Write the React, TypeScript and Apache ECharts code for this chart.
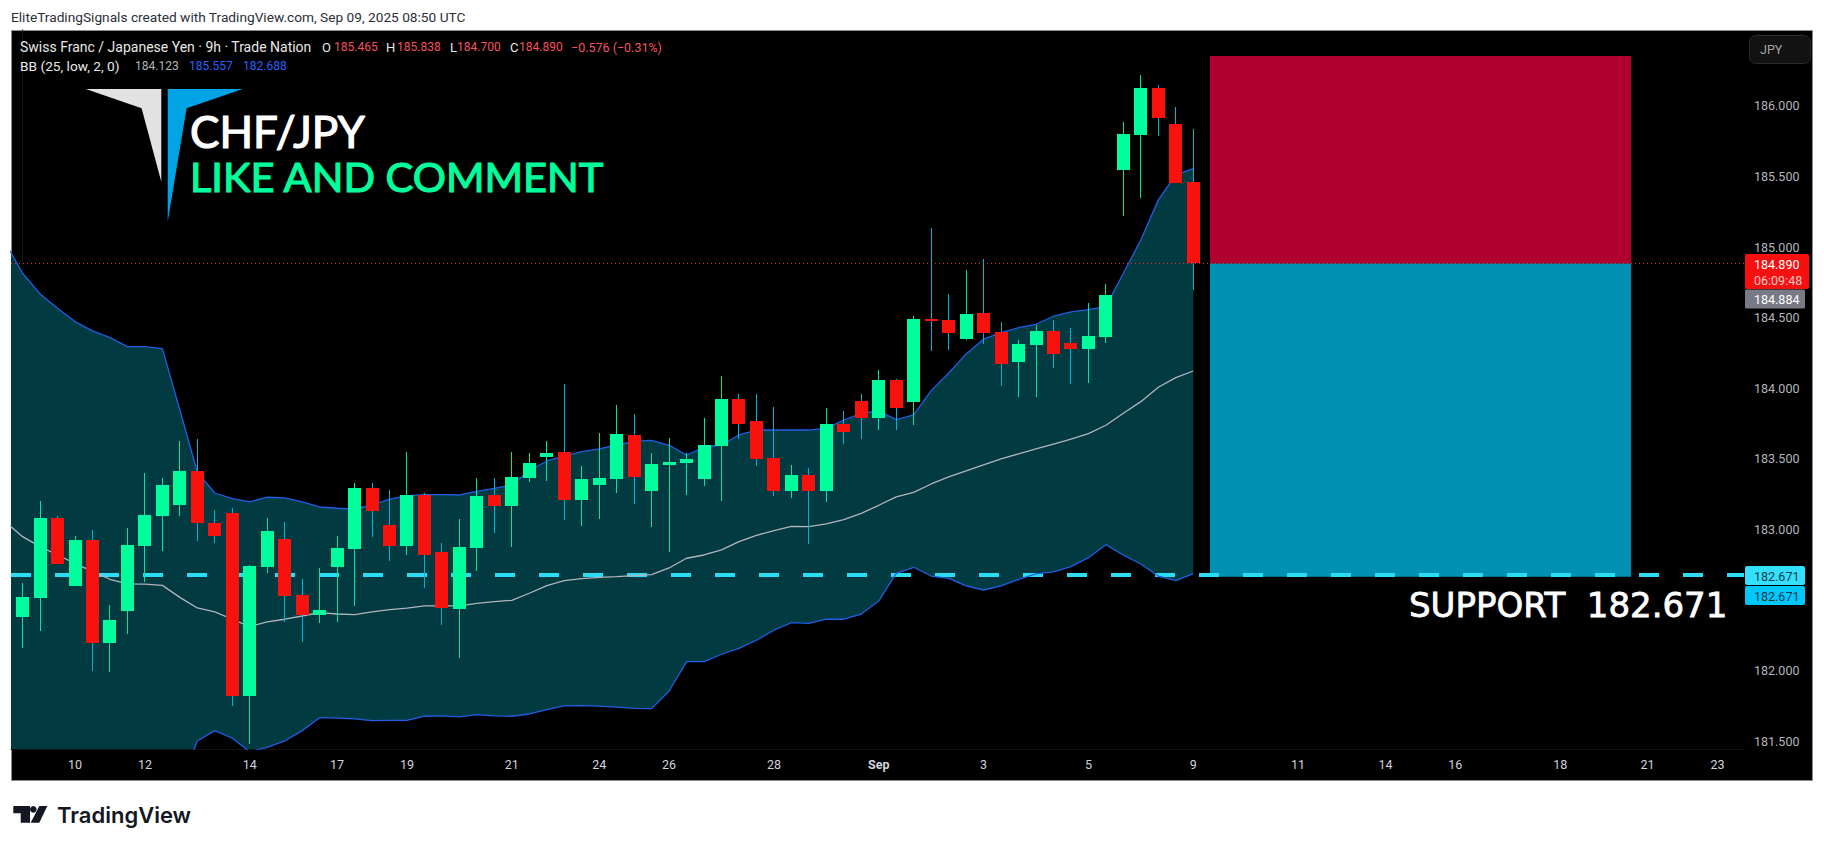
import { useEffect, useRef } from 'react';
import * as echarts from 'echarts';

// candle values (9h bars)
const opens = [182.381, 182.516, 183.082, 182.601, 182.927, 182.197, 182.424, 182.884, 183.096, 183.174, 183.415, 183.047, 183.118, 181.822, 182.735, 182.934, 182.537, 182.395, 182.735, 182.863, 183.295, 183.033, 182.884, 183.245, 182.842, 182.438, 182.87, 183.245, 183.167, 183.365, 183.514, 183.55, 183.21, 183.316, 183.358, 183.67, 183.273, 183.458, 183.472, 183.358, 183.592, 183.925, 183.769, 183.507, 183.273, 183.387, 183.273, 183.748, 183.911, 183.79, 184.06, 183.904, 184.492, 184.485, 184.35, 184.534, 184.4, 184.187, 184.308, 184.407, 184.322, 184.279, 184.364, 185.547, 185.795, 186.128, 185.873, 185.465];
const highs = [182.622, 183.203, 183.096, 182.955, 182.997, 182.466, 183.011, 183.401, 183.366, 183.628, 183.642, 183.139, 183.153, 182.749, 183.082, 183.054, 182.65, 182.728, 182.955, 183.33, 183.33, 183.281, 183.55, 183.259, 182.905, 183.075, 183.365, 183.365, 183.55, 183.543, 183.628, 184.031, 183.45, 183.684, 183.882, 183.819, 183.543, 183.649, 183.543, 183.79, 184.088, 183.96, 183.96, 183.868, 183.458, 183.436, 183.861, 183.84, 183.96, 184.13, 184.067, 184.513, 185.136, 184.669, 184.839, 184.917, 184.471, 184.343, 184.449, 184.485, 184.428, 184.605, 184.74, 185.887, 186.22, 186.149, 185.993, 185.838];
const lows = [182.162, 182.282, 182.757, 182.601, 181.999, 181.992, 182.261, 182.629, 182.849, 183.096, 182.919, 182.905, 181.751, 181.482, 182.693, 182.346, 182.204, 182.339, 182.346, 182.459, 182.948, 182.778, 182.82, 182.587, 182.325, 182.091, 182.709, 182.976, 182.877, 183.337, 183.344, 183.068, 183.026, 183.075, 183.259, 183.181, 183.018, 182.841, 183.245, 183.309, 183.203, 183.642, 183.45, 183.238, 183.224, 182.898, 183.196, 183.606, 183.642, 183.705, 183.705, 183.741, 184.265, 184.272, 184.343, 184.315, 184.017, 183.939, 183.939, 184.145, 184.031, 184.038, 184.322, 185.221, 185.349, 185.788, 185.455, 184.7];
const closes = [182.523, 183.082, 182.757, 182.927, 182.197, 182.36, 182.891, 183.104, 183.316, 183.415, 183.047, 182.955, 181.822, 182.742, 182.99, 182.53, 182.395, 182.431, 182.87, 183.295, 183.132, 182.884, 183.245, 182.82, 182.445, 182.877, 183.238, 183.167, 183.373, 183.472, 183.543, 183.21, 183.358, 183.365, 183.677, 183.373, 183.465, 183.479, 183.5, 183.599, 183.925, 183.748, 183.5, 183.273, 183.387, 183.273, 183.748, 183.691, 183.79, 184.06, 183.861, 184.492, 184.478, 184.393, 184.527, 184.393, 184.173, 184.315, 184.407, 184.244, 184.279, 184.371, 184.662, 185.802, 186.128, 185.915, 185.455, 184.885];

// Bollinger bands, first value belongs to the bar before the first candle
const bbUpper = [185.034, 184.815, 184.669, 184.567, 184.473, 184.407, 184.359, 184.296, 184.296, 184.281, 183.847, 183.406, 183.259, 183.219, 183.196, 183.229, 183.224, 183.196, 183.16, 183.151, 183.144, 183.174, 183.215, 183.238, 183.248, 183.248, 183.245, 183.271, 183.292, 183.316, 183.417, 183.486, 183.521, 183.552, 183.571, 183.599, 183.625, 183.632, 183.597, 183.528, 183.583, 183.599, 183.67, 183.705, 183.705, 183.705, 183.705, 183.717, 183.776, 183.823, 183.84, 183.779, 183.812, 183.984, 184.107, 184.244, 184.348, 184.395, 184.43, 184.454, 184.511, 184.541, 184.558, 184.579, 184.815, 185.051, 185.335, 185.512, 185.557];
const bbBasis = [183.056, 182.95, 182.879, 182.82, 182.761, 182.702, 182.648, 182.615, 182.613, 182.605, 182.52, 182.445, 182.417, 182.365, 182.313, 182.346, 182.365, 182.388, 182.412, 182.402, 182.398, 182.417, 182.433, 182.443, 182.459, 182.459, 182.459, 182.478, 182.49, 182.499, 182.549, 182.603, 182.638, 182.653, 182.662, 182.667, 182.674, 182.681, 182.728, 182.797, 182.82, 182.856, 182.915, 182.959, 182.993, 183.023, 183.021, 183.04, 183.07, 183.115, 183.172, 183.231, 183.264, 183.323, 183.373, 183.415, 183.458, 183.5, 183.536, 183.571, 183.606, 183.64, 183.68, 183.739, 183.824, 183.906, 184.008, 184.076, 184.123];
const bbLower = [181.078, 181.085, 181.089, 181.073, 181.049, 180.997, 180.937, 180.934, 180.93, 180.929, 181.193, 181.503, 181.576, 181.522, 181.427, 181.458, 181.503, 181.576, 181.668, 181.664, 181.659, 181.647, 181.649, 181.649, 181.678, 181.68, 181.673, 181.69, 181.68, 181.678, 181.694, 181.725, 181.751, 181.753, 181.749, 181.742, 181.734, 181.732, 181.857, 182.065, 182.065, 182.117, 182.159, 182.216, 182.287, 182.341, 182.336, 182.365, 182.365, 182.402, 182.494, 182.69, 182.733, 182.671, 182.655, 182.601, 182.572, 182.601, 182.648, 182.686, 182.7, 182.738, 182.801, 182.893, 182.818, 182.756, 182.671, 182.638, 182.688];

const tickBars = [3, 7, 13, 18, 22, 28, 33, 37, 43, 49, 55, 61, 67, 73, 78, 82, 88, 93, 97];
const tickLabels = ['10', '12', '14', '17', '19', '21', '24', '26', '28', 'Sep', '3', '5', '9', '11', '14', '16', '18', '21', '23'];
// 182.500 sits behind the two support tags in the original
const priceTicks = [181.5, 182, 183, 183.5, 184, 184.5, 185, 185.5, 186];

const lastLine = 184.885;
const supportLine = 182.678;
const zoneTop = 186.354;
const zoneBottom = 182.666;
const zoneFrom = 67.96;
const zoneTo = 92.05;

const xMin = -0.664;
const xMax = 98.52;
const yMin = 181.446;
const yMax = 186.538;

const GREEN = '#00ff9c';
const RED = '#f7120d';
const WICK_UP = '#00e8a0';
const WICK_DOWN = '#00b4d8';
const BAND_LINE = '#1f5fe6';

const FONT = 'Roboto, sans-serif';

const label = (text: string, x: number, y: number, fill: string, fontSize = 12, extra: any = {}) => ({
  type: 'text',
  x,
  y,
  z: 100,
  silent: true,
  style: { text, fill, fontSize, fontFamily: FONT, textVerticalAlign: 'middle', ...extra },
});

const box = (x: number, y: number, width: number, height: number, fill: string, r = 1, stroke?: string) => ({
  type: 'rect',
  z: 90,
  silent: true,
  shape: { x, y, width, height, r },
  style: { fill, stroke },
});

const App = () => {
  const chartRef = useRef<HTMLDivElement>(null);

  useEffect(() => {
    if (!chartRef.current) return;
    const chart = echarts.init(chartRef.current, null, { renderer: 'svg' });

    const bandPoint = (values: number[]) => values.map((v, i) => [i - 1, v]);

    const rectBetween = (api: any, top: number, bottom: number, fill: string) => {
      const a = api.coord([zoneFrom, top]);
      const b = api.coord([zoneTo, bottom]);
      return {
        type: 'rect',
        shape: { x: a[0], y: a[1], width: b[0] - a[0], height: b[1] - a[1] },
        style: { fill },
      };
    };

    const option: any = {
      animation: false,
      backgroundColor: '#ffffff',
      grid: { left: 11, top: 30, width: 1733, height: 719, containLabel: false },
      xAxis: {
        type: 'value',
        min: xMin,
        max: xMax,
        splitLine: { show: false },
        axisTick: { show: false },
        axisLine: { show: true, lineStyle: { color: '#141414' } },
        axisLabel: {
          customValues: tickBars,
          margin: 9,
          color: '#d1d4dc',
          fontSize: 12.5,
          fontFamily: FONT,
          formatter: (v: number) => {
            const t = tickLabels[tickBars.indexOf(v)];
            return t === 'Sep' ? '{b|Sep}' : t;
          },
          rich: { b: { fontWeight: 'bold', color: '#d1d4dc', fontSize: 12.5, fontFamily: FONT } },
        },
      },
      yAxis: {
        type: 'value',
        position: 'right',
        min: yMin,
        max: yMax,
        splitLine: { show: false },
        axisTick: { show: false },
        axisLine: { show: true, lineStyle: { color: '#141414' } },
        axisLabel: {
          customValues: priceTicks,
          margin: 10,
          color: '#b2b5be',
          fontSize: 12.5,
          fontFamily: FONT,
          formatter: (v: number) => v.toFixed(3),
        },
      },
      graphic: [
        {
          type: 'rect',
          z: -10,
          silent: true,
          shape: { x: 11.5, y: 30.5, width: 1801, height: 750 },
          style: { fill: '#000000', stroke: '#8c8c8c', lineWidth: 1 },
        },
        label('EliteTradingSignals created with TradingView.com, Sep 09, 2025 08:50 UTC', 11, 17, '#2a2e39', 13.7),
        label('Swiss Franc / Japanese Yen · 9h · Trade Nation', 20, 47, '#e8e8e8', 14),
        label('O', 322, 47, '#e8e8e8', 13),
        label('185.465', 334, 47, '#f7525f'),
        label('H', 386, 47, '#e8e8e8', 13),
        label('185.838', 397, 47, '#f7525f'),
        label('L', 450, 47, '#e8e8e8', 13),
        label('184.700', 457, 47, '#f7525f'),
        label('C', 510, 47, '#e8e8e8', 13),
        label('184.890', 519, 47, '#f7525f'),
        label('−0.576 (−0.31%)', 571, 47, '#f7525f', 12.5),
        label('BB (25, low, 2, 0)', 20, 66, '#e8e8e8', 13.7),
        label('184.123', 135, 66, '#b2b5be'),
        label('185.557', 189, 66, '#2962ff'),
        label('182.688', 243, 66, '#2962ff'),
        {
          type: 'polygon',
          z: 100,
          silent: true,
          shape: { points: [[85.8, 89], [161.3, 89], [161.3, 181.7], [141.6, 108.3]] },
          style: { fill: '#e2e2e2' },
        },
        {
          type: 'polygon',
          z: 100,
          silent: true,
          shape: { points: [[167.7, 89], [242.8, 89], [186.6, 108.3], [167.7, 221.7]] },
          style: { fill: '#00a4e4' },
        },
        label('CHF/JPY', 190, 131, '#ffffff', 44, { fontFamily: 'Lato, sans-serif', stroke: '#ffffff', lineWidth: 1.2 }),
        label('LIKE AND COMMENT', 190, 175.5, GREEN, 41.5, { fontFamily: 'Lato, sans-serif', stroke: GREEN, lineWidth: 1.2 }),
        label('SUPPORT  182.671', 1409, 605, '#ffffff', 34, { fontFamily: 'DejaVu Sans, sans-serif', stroke: '#ffffff', lineWidth: 0.8 }),
        box(1749.5, 35.5, 61, 28, '#121212', 6, '#2a2a2a'),
        label('JPY', 1760, 49, '#a8a8a8', 12.5),
        box(1745, 254, 64, 35, '#f7100f', 2),
        label('184.890', 1754, 264, '#ffffff', 12.5),
        label('06:09:48', 1754, 280, '#ffc9c9', 12.5),
        box(1745, 289.5, 60, 19, '#787b86', 1),
        label('184.884', 1754, 299, '#ffffff', 12.5),
        box(1745, 566, 60, 19, '#33e0ff', 2),
        label('182.671', 1754, 576, '#0e3a45', 12.5),
        box(1745, 586, 60, 19, '#00c8ff', 2),
        label('182.671', 1754, 596, '#0e3a45', 12.5),
        // TradingView mark
        {
          type: 'polygon',
          z: 100,
          silent: true,
          shape: { points: [[13.3, 806], [30, 806], [30, 822.7], [20.7, 822.7], [20.7, 813.3], [13.3, 813.3]] },
          style: { fill: '#131722' },
        },
        { type: 'circle', z: 100, silent: true, shape: { cx: 33.3, cy: 809.3, r: 3.3 }, style: { fill: '#131722' } },
        {
          type: 'polygon',
          z: 100,
          silent: true,
          shape: { points: [[39.3, 806], [47.3, 806], [39.3, 822.7], [30.7, 822.7]] },
          style: { fill: '#131722' },
        },
        label('TradingView', 57, 815, '#131722', 22, { fontFamily: 'Inter, sans-serif', fontWeight: 600 }),
      ],
      series: [
        {
          // trade zones
          type: 'custom',
          z: 1,
          silent: true,
          data: [[zoneFrom, lastLine]],
          encode: { x: 0, y: 1 },
          renderItem: (_: any, api: any) => ({
            type: 'group',
            children: [
              rectBetween(api, zoneTop, lastLine, '#b10030'),
              rectBetween(api, lastLine, zoneBottom, '#0090b4'),
            ],
          }),
        },
        {
          // band fill
          type: 'custom',
          z: 2,
          silent: true,
          clip: true,
          data: [[0, bbUpper[0]]],
          encode: { x: 0, y: 1 },
          renderItem: (_: any, api: any) => {
            const top = bbUpper.map((v, i) => api.coord([i - 1, v]));
            const bottom = bbLower.map((v, i) => api.coord([i - 1, v])).reverse();
            return {
              type: 'polygon',
              shape: { points: [...top, ...bottom] },
              style: { fill: '#013a41' },
            };
          },
        },
        {
          type: 'line',
          z: 3,
          silent: true,
          symbol: 'none',
          data: [[xMin, lastLine], [xMax, lastLine]],
          lineStyle: { color: '#f23030', width: 1, type: [1, 3] },
        },
        {
          type: 'line',
          z: 4,
          silent: true,
          symbol: 'none',
          data: [[xMin, supportLine], [xMax, supportLine]],
          lineStyle: { color: '#2bdcf5', width: 4, type: [20, 24], cap: 'butt' },
        },
        {
          type: 'line',
          z: 5,
          silent: true,
          symbol: 'none',
          clip: true,
          data: bandPoint(bbUpper),
          lineStyle: { color: BAND_LINE, width: 1.3 },
        },
        {
          type: 'line',
          z: 5,
          silent: true,
          symbol: 'none',
          clip: true,
          data: bandPoint(bbLower),
          lineStyle: { color: BAND_LINE, width: 1.3 },
        },
        {
          type: 'line',
          z: 5,
          silent: true,
          symbol: 'none',
          clip: true,
          data: bandPoint(bbBasis),
          lineStyle: { color: '#b2b5be', width: 1.3 },
        },
        {
          type: 'custom',
          z: 6,
          silent: true,
          clip: true,
          data: opens.map((o, i) => [i, o, highs[i], lows[i], closes[i]]),
          encode: { x: 0, y: [1, 2, 3, 4] },
          renderItem: (_: any, api: any) => {
            const i = api.value(0);
            const o = api.value(1);
            const c = api.value(4);
            const up = c >= o;
            // snap to whole pixels, a 1px wick straddling two columns goes dim
            const x = Math.floor(api.coord([i, o])[0]);
            const yHigh = Math.round(api.coord([i, api.value(2)])[1]);
            const yLow = Math.round(api.coord([i, api.value(3)])[1]);
            const yTop = Math.round(api.coord([i, Math.max(o, c)])[1]);
            const yBot = Math.round(api.coord([i, Math.min(o, c)])[1]);
            const half = Math.floor(api.size([1, 0])[0] * 0.37);
            return {
              type: 'group',
              children: [
                {
                  type: 'rect',
                  shape: { x, y: yHigh, width: 1, height: yLow - yHigh },
                  style: { fill: up ? WICK_UP : WICK_DOWN },
                },
                {
                  type: 'rect',
                  shape: { x: x - half, y: yTop, width: half * 2 + 1, height: yBot - yTop },
                  style: { fill: up ? GREEN : RED },
                },
              ],
            };
          },
        },
      ],
    };

    chart.setOption(option);
    return () => chart.dispose();
  }, []);

  return <div ref={chartRef} style={{ position: 'absolute', left: 0, top: 0, width: 1824, height: 849 }} />;
};

export default App;
